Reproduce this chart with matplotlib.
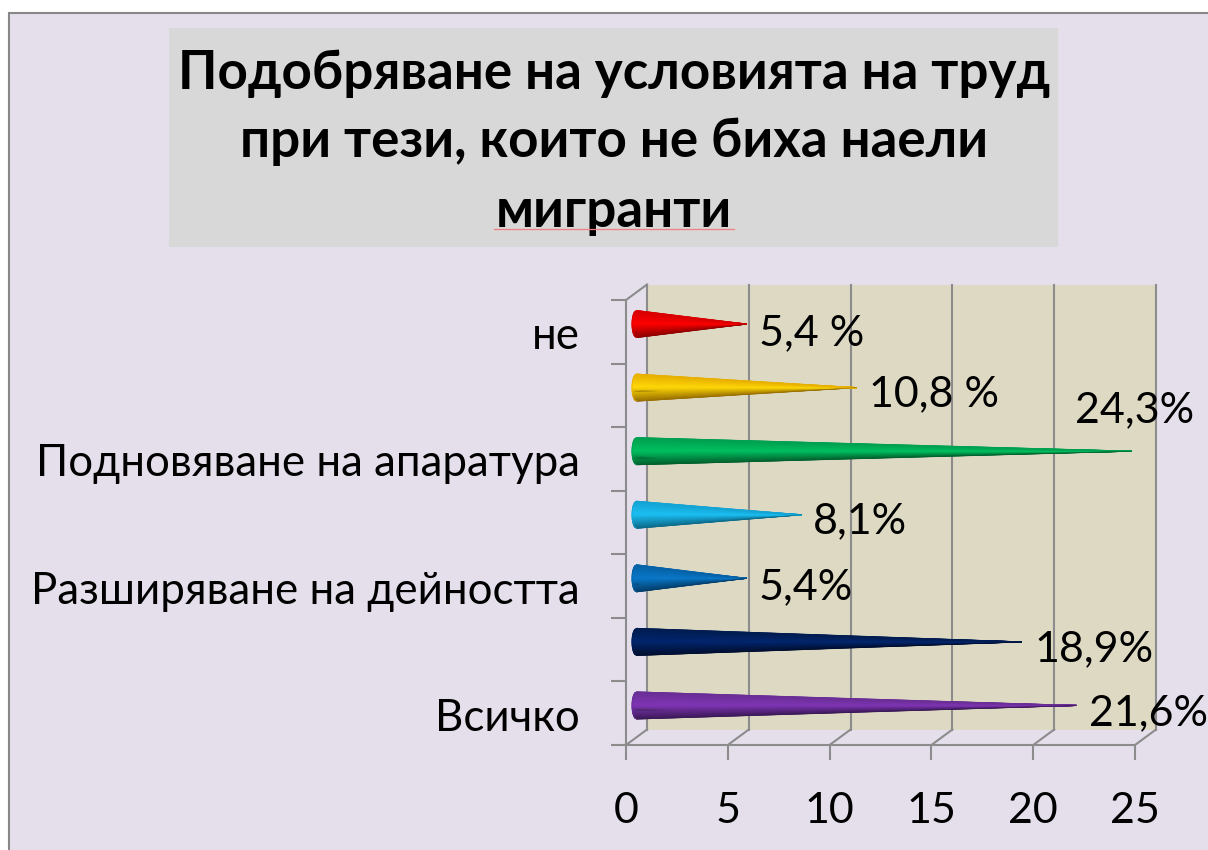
import matplotlib
matplotlib.use('Agg')
import matplotlib.pyplot as plt
from matplotlib.patches import Rectangle
import numpy as np

plt.rcParams['font.family'] = ['Lato', 'Noto Sans', 'DejaVu Sans']

# data, bottom to top
categories = ['Всичко', '', 'Разширяване на дейността', '',
              'Подновяване на апаратура', '', 'не']
values = [21.6, 18.9, 5.4, 8.1, 24.3, 10.8, 5.4]
value_labels = ['21,6%', '18,9%', '5,4%', '8,1%', '24,3%', '10,8 %', '5,4 %']
x_ticks = [0, 5, 10, 15, 20, 25]
title_lines = ['Подобряване на условията на труд',
               'при тези, които не биха наели',
               'мигранти']

# colours of the cones: top edge, bright centre, dark bottom
bright = ['#8035B5', '#02266E', '#0A78C8', '#1CC0F4', '#00C060', '#FFD808', '#FF0000']
shade_top = ['#6A2E96', '#001C50', '#0562A8', '#14A4D4', '#00A050', '#E8B000', '#D80000']
shade_bottom = ['#3C1A58', '#000F30', '#03406E', '#0C6C8C', '#00602E', '#9A7000', '#900000']

# label anchors in pixels of the picture
label_x = [1089, 1034, 759, 813, 1075, 869, 759]
label_y = [713, 649, 587, 521, 410, 394, 333]

W, H = 1208, 850
GRID = '#8C8C8C'
fig = plt.figure(figsize=(W / 100, H / 100), dpi=100, facecolor='white')


def fx(px):
    return px / W


def fy(py):
    return 1 - py / H


# chart area and title box
fig.add_artist(Rectangle((fx(9), -0.02), 1 - fx(9) + 0.02, fy(13) + 0.02, transform=fig.transFigure,
                         facecolor='#E5DFEC', edgecolor='#888888', linewidth=1.5, zorder=-2))
fig.add_artist(Rectangle((fx(169), fy(247)), fx(1058 - 169), (247 - 28) / H,
                         transform=fig.transFigure, facecolor='#D8D8D8', edgecolor='none', zorder=-1))
for line, py in zip(title_lines, [73, 142, 211]):
    fig.text(fx(614), fy(py), line, ha='center', va='center', fontsize=38.2,
             fontweight='bold', color='black')
fig.add_artist(plt.Line2D([fx(494), fx(734)], [fy(228.5), fy(228.5)], color='#F08080', linewidth=0.9, zorder=4))

# front plane of the 3D box
ax = fig.add_axes([fx(626), fy(745), (1135 - 626) / W, (745 - 300) / H])
ax.patch.set_alpha(0)
ax.set_xlim(0, 25)
ax.set_ylim(0, 7)
ppx = 25 / (1135 - 626)
ppy = 7 / (745 - 300)
dx = 21 * ppx
dy = 15.5 * ppy

for s in ['top', 'right']:
    ax.spines[s].set_visible(False)
for s in ['left', 'bottom']:
    ax.spines[s].set_color(GRID)
    ax.spines[s].set_linewidth(1.5)

# back wall
ax.add_patch(Rectangle((dx, dy), 25, 7, facecolor='#DDD9C3', edgecolor='none',
                       clip_on=False, zorder=0))
for t in x_ticks:
    ax.plot([t + dx, t + dx], [dy, 7 + dy], color=GRID, lw=1.5, clip_on=False, zorder=1)
    ax.plot([t, t + dx], [0, dy], color=GRID, lw=1.5, clip_on=False, zorder=1)
ax.plot([0, dx], [7, 7 + dy], color=GRID, lw=1.5, clip_on=False, zorder=1)

# cones as gouraud meshes: one row on the rounded base, one row on the tip
radius = 13.5 * ppy
x_base = 10.5 * ppx
cap = 4.5 * ppx
ts = np.linspace(-1, 1, 25)
for i, v in enumerate(values):
    yc = i + 0.5 + dy / 2
    tip = v + x_base
    rgb = np.array([matplotlib.colors.to_rgb(c) for c in [shade_bottom[i], bright[i], shade_top[i]]])
    cols = np.column_stack([np.interp(ts, [-1, 0.05, 1], rgb[:, k]) for k in range(3)])
    base_x = x_base - cap * np.sqrt(1 - ts ** 2)
    X = np.vstack([base_x, np.full_like(ts, tip)])
    Y = np.vstack([yc + ts * radius, np.full_like(ts, yc)])
    C = np.stack([cols, cols])
    mesh = ax.pcolormesh(X, Y, C, shading='gouraud', zorder=3, clip_on=False)
    # soft outline so the mesh edges are not jagged
    ax.plot([base_x[-1], tip], [yc + radius, yc], color=shade_top[i], lw=0.5, zorder=3, clip_on=False)
    ax.plot([base_x[0], tip], [yc - radius, yc], color=shade_bottom[i], lw=0.5, zorder=3, clip_on=False)
    ax.plot(base_x, yc + ts * radius, color=shade_top[i], lw=0.5, zorder=3, clip_on=False)

ax.set_xlim(0, 25)
ax.set_ylim(0, 7)

# value labels
for i, lab in enumerate(value_labels):
    ax.text((label_x[i] - 626) * ppx, (745 - label_y[i]) * ppy, lab, ha='left', va='center',
            fontsize=31, color='black', clip_on=False, zorder=5)

# axes ticks
ax.set_xticks(x_ticks)
ax.set_xticklabels([str(t) for t in x_ticks], fontsize=31)
ax.tick_params(axis='x', length=11, width=1.5, color=GRID, pad=23)
ax.set_yticks(range(8))
ax.set_yticklabels([])
ax.tick_params(axis='y', which='major', length=11, width=1.5, color=GRID)
ax.set_yticks(np.arange(7) + 0.5, minor=True)
ax.set_yticklabels(categories, minor=True, fontsize=31.6, va='center')
ax.tick_params(axis='y', which='minor', length=0, pad=33)
for lab in ax.get_yticklabels(minor=True):
    lab.set_transform(lab.get_transform() + matplotlib.transforms.ScaledTranslation(0, -5 / 100, fig.dpi_scale_trans))

fig.savefig('out.png', dpi=100)
